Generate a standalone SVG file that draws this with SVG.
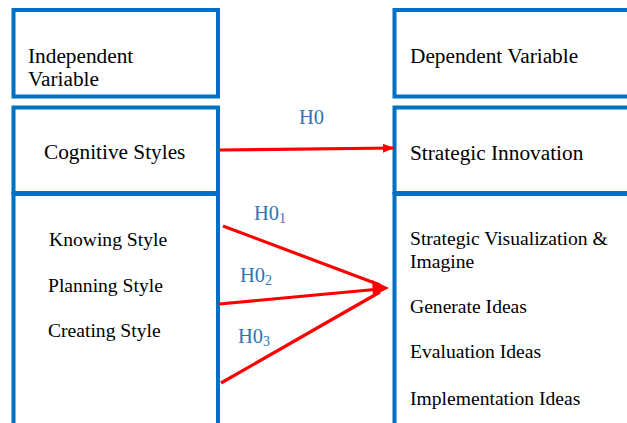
<svg xmlns="http://www.w3.org/2000/svg" width="627" height="423" viewBox="0 0 627 423">
  <style>
    .box { fill: #ffffff; stroke: #0070C0; stroke-width: 4; }
    .txt { font-family: 'Times New Roman', 'Liberation Serif', 'DejaVu Serif', serif; font-size: 21.3px; fill: #000000; }
    .item { font-size: 19.6px; }
    .hyp { font-family: 'Times New Roman', 'Liberation Serif', 'DejaVu Serif', serif; font-size: 20.5px; fill: #2E75B6; }
    .sub { font-size: 14px; }
    .link { stroke: #FF0000; stroke-width: 3.2; fill: none; }
  </style>
  <defs>
    <marker id="arrowSmall" markerUnits="userSpaceOnUse" markerWidth="12" markerHeight="10" refX="11" refY="5" orient="auto">
      <path d="M0,0.5 L11,5 L0,9.5 Z" fill="#FF0000"/>
    </marker>
  </defs>

  <rect width="627" height="423" fill="#ffffff"/>

  <!-- left column -->
  <g id="independent-variable">
    <rect class="box" x="13.5" y="10" width="204.5" height="86.5"/>
    <text class="txt" x="28" y="62.5">Independent</text>
    <text class="txt" x="28" y="86">Variable</text>
  </g>
  <g id="cognitive-styles">
    <rect class="box" x="13.5" y="107.5" width="204.5" height="85.5"/>
    <text class="txt" x="44" y="158.5">Cognitive Styles</text>
  </g>
  <g id="style-list">
    <rect class="box" x="13.5" y="194" width="204.5" height="240"/>
    <text class="txt item" x="49" y="246">Knowing Style</text>
    <text class="txt item" x="48" y="291.5">Planning Style</text>
    <text class="txt item" x="48" y="336.5">Creating Style</text>
  </g>

  <!-- right column -->
  <g id="dependent-variable">
    <rect class="box" x="394.5" y="10" width="240" height="86.5"/>
    <text class="txt" x="410" y="62.5">Dependent Variable</text>
  </g>
  <g id="strategic-innovation">
    <rect class="box" x="394.5" y="107.5" width="240" height="85.5"/>
    <text class="txt" x="410" y="160">Strategic Innovation</text>
  </g>
  <g id="innovation-list">
    <rect class="box" x="394.5" y="194" width="240" height="240"/>
    <text class="txt item" x="410" y="245">Strategic Visualization &amp;</text>
    <text class="txt item" x="410" y="267.5">Imagine</text>
    <text class="txt item" x="410" y="313">Generate Ideas</text>
    <text class="txt item" x="410" y="358">Evaluation Ideas</text>
    <text class="txt item" x="410" y="404.5">Implementation Ideas</text>
  </g>

  <!-- hypothesis connectors -->
  <g id="connectors">
    <line class="link" x1="220" y1="150" x2="394" y2="148" marker-end="url(#arrowSmall)"/>
    <line class="link" x1="223" y1="226" x2="380" y2="285"/>
    <line class="link" x1="219" y1="304" x2="380" y2="289"/>
    <line class="link" x1="221" y1="383" x2="380" y2="292"/>
    <!-- shared arrowhead where the three hypotheses meet -->
    <path d="M372,280 L389,288 L373,296 Z" fill="#FF0000"/>
    <text class="hyp" x="299" y="124">H0</text>
    <text class="hyp" x="254" y="220">H0<tspan class="sub" dy="3">1</tspan></text>
    <text class="hyp" x="240" y="282">H0<tspan class="sub" dy="3">2</tspan></text>
    <text class="hyp" x="238" y="343">H0<tspan class="sub" dy="3">3</tspan></text>
  </g>
</svg>
